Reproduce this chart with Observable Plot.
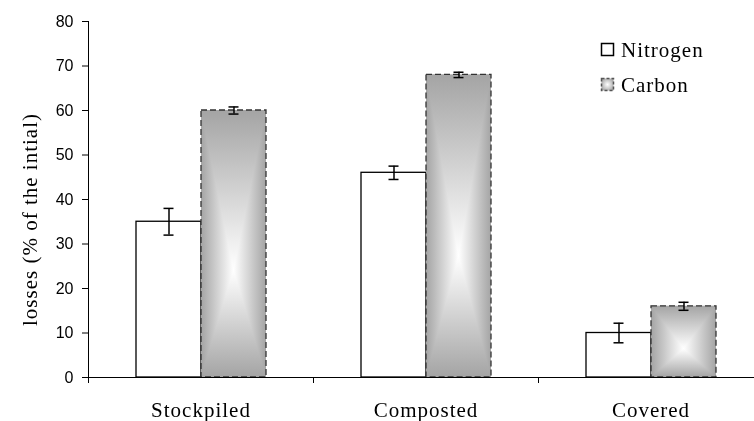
<!DOCTYPE html>
<html>
<head>
<meta charset="utf-8">
<script src="https://cdn.jsdelivr.net/npm/d3@7"></script>
<script src="https://cdn.jsdelivr.net/npm/@observablehq/plot@0.6"></script>
<style>
  html, body { margin: 0; padding: 0; background: #fff; }
  #wrap { position: relative; width: 754px; height: 421px; }
  #legend { position: absolute; left: 0; top: 0; pointer-events: none; }
</style>
</head>
<body>
<svg width="0" height="0" style="position:absolute">
  <defs>
    <linearGradient id="carbonH" x1="0" x2="1" y1="0" y2="0">
      <stop offset="0" stop-color="#a4a4a4"/>
      <stop offset="0.5" stop-color="#ffffff"/>
      <stop offset="1" stop-color="#a4a4a4"/>
    </linearGradient>
    <linearGradient id="carbonV" x1="0" x2="0" y1="0" y2="1">
      <stop offset="0" stop-color="#a4a4a4"/>
      <stop offset="0.6" stop-color="#ffffff"/>
      <stop offset="1" stop-color="#a4a4a4"/>
    </linearGradient>
    <radialGradient id="carbonSwatch" cx="0.5" cy="0.5" r="0.6">
      <stop offset="0" stop-color="#ffffff"/>
      <stop offset="1" stop-color="#a4a4a4"/>
    </radialGradient>
  </defs>
</svg>
<div id="wrap"></div>
<script>
// ---- data ----
const groups = ["Stockpiled", "Composted", "Covered"];
const series = ["Nitrogen", "Carbon"];
const nitrogen = [35, 46, 10];
const nitrogenErr = [3, 1.5, 2.2];
const carbon = [60, 68, 16];
const carbonErr = [0.8, 0.6, 0.9];
const yTicks = [0, 10, 20, 30, 40, 50, 60, 70, 80];
const yLabel = "losses (% of the intial)";

const rows = groups.flatMap((g, i) => [
  {group: g, series: "Nitrogen", value: nitrogen[i], err: nitrogenErr[i]},
  {group: g, series: "Carbon", value: carbon[i], err: carbonErr[i]}
]);
const nRows = rows.filter(d => d.series === "Nitrogen");
const cRows = rows.filter(d => d.series === "Carbon");

const W = 754, H = 421, MT = 21, MB = 44, ML = 88, MR = -9;
const innerH = H - MT - MB;
const serif = "'Liberation Serif', 'Times New Roman', serif";
const sans = "'Liberation Sans', Arial, sans-serif";

const chart = Plot.plot({
  width: W, height: H,
  marginTop: MT, marginBottom: MB, marginLeft: ML, marginRight: MR,
  style: {background: "transparent", overflow: "visible"},
  fx: {domain: groups, padding: 0},
  x: {domain: series, paddingInner: 0, paddingOuter: 0.72, axis: null},
  y: {domain: [0, 80]},
  marks: [
    Plot.barY(nRows, {fx: "group", x: "series", y: "value", fill: "white", stroke: "black", strokeWidth: 1.3}),
    Plot.barY(cRows, {fx: "group", x: "series", y: "value", fill: "url(#carbonH)"}),
    Plot.barY(cRows, {fx: "group", x: "series", y: "value", fill: "url(#carbonV)", mixBlendMode: "darken"}),
    Plot.barY(cRows, {fx: "group", x: "series", y: "value", fill: "none", stroke: "#333", strokeWidth: 1.3, strokeDasharray: "6,3"}),
    Plot.ruleX(rows, {fx: "group", x: "series", y1: d => d.value - d.err, y2: d => d.value + d.err, stroke: "black", strokeWidth: 1.5}),
    Plot.tickY(rows, {fx: "group", x: "series", y: d => d.value - d.err, insetLeft: 27.5, insetRight: 27.5, stroke: "black", strokeWidth: 1.5}),
    Plot.tickY(rows, {fx: "group", x: "series", y: d => d.value + d.err, insetLeft: 27.5, insetRight: 27.5, stroke: "black", strokeWidth: 1.5}),
    Plot.ruleY([0], {stroke: "black", strokeWidth: 1}),
    Plot.frame({anchor: "left", insetTop: innerH, insetBottom: -5, stroke: "black", strokeWidth: 1}),
    Plot.frame({anchor: "left", facetAnchor: "left", stroke: "black", strokeWidth: 1}),
    Plot.axisY({ticks: yTicks, tickSize: 6, tickPadding: 9, label: null, fontSize: 16, fontFamily: sans, stroke: "black", color: "black"}),
    Plot.axisFx({anchor: "bottom", tickSize: 0, tickPadding: 25, label: null, fontSize: 21, fontFamily: serif, color: "black"}),
    Plot.text([yLabel], {frameAnchor: "left", facetAnchor: "left", textAnchor: "middle", rotate: -90, dx: -58, dy: 20, fontSize: 21, fontFamily: serif, fill: "black"})
  ]
});

// slightly widened letter spacing for the serif texts, as in the reference
chart.querySelectorAll("text").forEach(t => {
  if (groups.includes(t.textContent) || t.textContent === yLabel) t.setAttribute("letter-spacing", "1px");
});

const wrap = document.getElementById("wrap");
wrap.appendChild(chart);

// legend overlay
const ns = "http://www.w3.org/2000/svg";
const leg = document.createElementNS(ns, "svg");
leg.setAttribute("id", "legend");
leg.setAttribute("width", W);
leg.setAttribute("height", H);
const legendItems = [
  {name: series[0], fill: "white", stroke: "black", dash: null, y: 43},
  {name: series[1], fill: "url(#carbonSwatch)", stroke: "#555", dash: "3,2", y: 78}
];
legendItems.forEach(it => {
  const r = document.createElementNS(ns, "rect");
  r.setAttribute("x", 601.5); r.setAttribute("y", it.y + 0.5);
  r.setAttribute("width", 12); r.setAttribute("height", 12);
  r.setAttribute("fill", it.fill); r.setAttribute("stroke", it.stroke);
  r.setAttribute("stroke-width", 1.5);
  if (it.dash) r.setAttribute("stroke-dasharray", it.dash);
  leg.appendChild(r);
  const t = document.createElementNS(ns, "text");
  t.setAttribute("x", 621); t.setAttribute("y", it.y + 14);
  t.setAttribute("font-family", serif); t.setAttribute("font-size", 21);
  t.setAttribute("letter-spacing", "1px");
  t.setAttribute("fill", "black");
  t.textContent = it.name;
  leg.appendChild(t);
});
wrap.appendChild(leg);
</script>
</body>
</html>
